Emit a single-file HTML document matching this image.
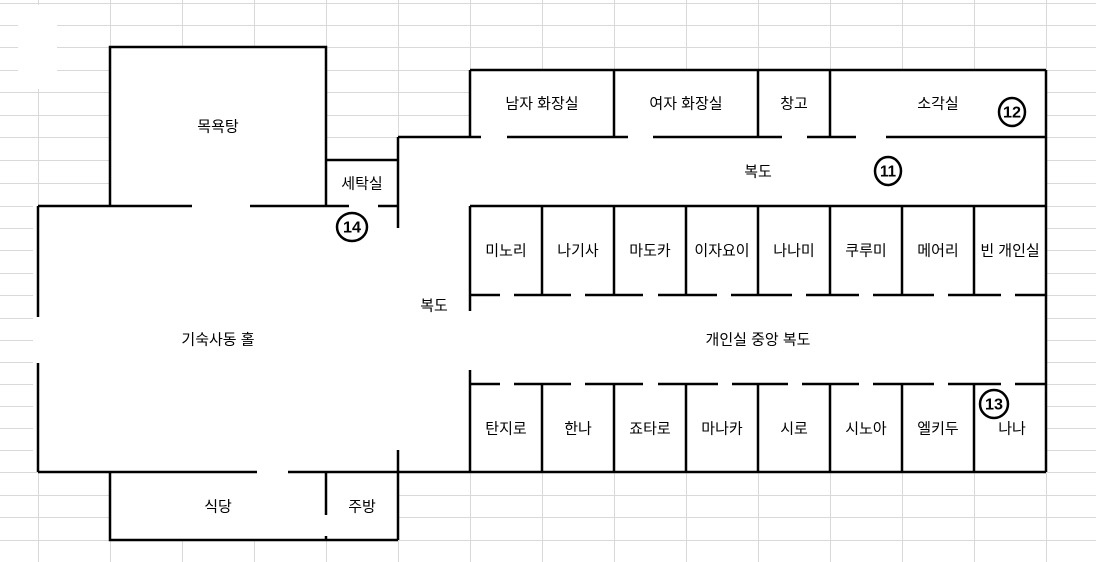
<!DOCTYPE html>
<html><head><meta charset="utf-8"><style>
html,body{margin:0;padding:0;background:#fff;}
svg{display:block;}
text{font-family:"Liberation Sans","Noto Sans CJK KR","NanumGothic",sans-serif;font-size:15px;fill:#000;text-anchor:middle;dominant-baseline:central;}
.n{font-weight:bold;font-size:16px;}
</style></head><body>
<svg width="1096" height="562" viewBox="0 0 1096 562" xmlns="http://www.w3.org/2000/svg">
<g stroke="#d9d9d9" stroke-width="1" shape-rendering="crispEdges">
<line x1="38.5" y1="0" x2="38.5" y2="562"/><line x1="110.5" y1="0" x2="110.5" y2="562"/><line x1="182.5" y1="0" x2="182.5" y2="562"/><line x1="254.5" y1="0" x2="254.5" y2="562"/><line x1="326.5" y1="0" x2="326.5" y2="562"/><line x1="398.5" y1="0" x2="398.5" y2="562"/><line x1="470.5" y1="0" x2="470.5" y2="562"/><line x1="542.5" y1="0" x2="542.5" y2="562"/><line x1="614.5" y1="0" x2="614.5" y2="562"/><line x1="686.5" y1="0" x2="686.5" y2="562"/><line x1="758.5" y1="0" x2="758.5" y2="562"/><line x1="830.5" y1="0" x2="830.5" y2="562"/><line x1="902.5" y1="0" x2="902.5" y2="562"/><line x1="974.5" y1="0" x2="974.5" y2="562"/><line x1="1046.5" y1="0" x2="1046.5" y2="562"/>
<line x1="0" y1="3.5" x2="1096" y2="3.5"/><line x1="0" y1="25.5" x2="1096" y2="25.5"/><line x1="0" y1="47.5" x2="1096" y2="47.5"/><line x1="0" y1="70.5" x2="1096" y2="70.5"/><line x1="0" y1="92.5" x2="1096" y2="92.5"/><line x1="0" y1="115.5" x2="1096" y2="115.5"/><line x1="0" y1="137.5" x2="1096" y2="137.5"/><line x1="0" y1="160.5" x2="1096" y2="160.5"/><line x1="0" y1="183.5" x2="1096" y2="183.5"/><line x1="0" y1="206.5" x2="1096" y2="206.5"/><line x1="0" y1="228.5" x2="1096" y2="228.5"/><line x1="0" y1="250.5" x2="1096" y2="250.5"/><line x1="0" y1="273.5" x2="1096" y2="273.5"/><line x1="0" y1="295.5" x2="1096" y2="295.5"/><line x1="0" y1="318.5" x2="1096" y2="318.5"/><line x1="0" y1="340.5" x2="1096" y2="340.5"/><line x1="0" y1="362.5" x2="1096" y2="362.5"/><line x1="0" y1="384.5" x2="1096" y2="384.5"/><line x1="0" y1="406.5" x2="1096" y2="406.5"/><line x1="0" y1="428.5" x2="1096" y2="428.5"/><line x1="0" y1="450.5" x2="1096" y2="450.5"/><line x1="0" y1="472.5" x2="1096" y2="472.5"/><line x1="0" y1="495.5" x2="1096" y2="495.5"/><line x1="0" y1="517.5" x2="1096" y2="517.5"/><line x1="0" y1="540.5" x2="1096" y2="540.5"/>
</g>
<g fill="#fff">
<rect x="18" y="5" width="39" height="84"/>
<rect x="110" y="47" width="216" height="159"/>
<rect x="326" y="160" width="72" height="46"/>
<rect x="33" y="206" width="437" height="266"/>
<rect x="398" y="137" width="72" height="69"/>
<rect x="470" y="70" width="576" height="402"/>
<rect x="110" y="472" width="288" height="68"/>
</g>
<g stroke="#000" stroke-width="2.5" fill="none">
<polyline points="110,206 110,47 326,47 326,206"/>
<line x1="38" y1="206" x2="192" y2="206"/><line x1="250" y1="206" x2="349" y2="206"/><line x1="378" y1="206" x2="398" y2="206"/>
<line x1="326" y1="160" x2="398" y2="160"/>
<line x1="398" y1="137" x2="398" y2="228"/>
<line x1="398" y1="137" x2="481" y2="137"/>
<line x1="38" y1="206" x2="38" y2="317"/><line x1="38" y1="363" x2="38" y2="472"/>
<line x1="38" y1="472" x2="257" y2="472"/><line x1="288" y1="472" x2="1046" y2="472"/>
<line x1="398" y1="450" x2="398" y2="540"/>
<polyline points="110,472 110,540 398,540"/>
<line x1="326" y1="472" x2="326" y2="515"/><line x1="326" y1="536" x2="326" y2="540"/>
<line x1="470" y1="70" x2="1046" y2="70"/><line x1="1046" y1="70" x2="1046" y2="472"/>
<line x1="470" y1="70" x2="470" y2="137"/>
<line x1="614" y1="70" x2="614" y2="137"/><line x1="758" y1="70" x2="758" y2="137"/><line x1="830" y1="70" x2="830" y2="137"/>
<line x1="507" y1="137" x2="628" y2="137"/><line x1="653" y1="137" x2="782" y2="137"/><line x1="807" y1="137" x2="856" y2="137"/><line x1="886" y1="137" x2="1046" y2="137"/>
<line x1="470" y1="206" x2="1046" y2="206"/>
<line x1="470" y1="206" x2="470" y2="311"/><line x1="470" y1="370" x2="470" y2="472"/>
<line x1="542" y1="206" x2="542" y2="295"/><line x1="614" y1="206" x2="614" y2="295"/><line x1="686" y1="206" x2="686" y2="295"/><line x1="758" y1="206" x2="758" y2="295"/><line x1="830" y1="206" x2="830" y2="295"/><line x1="902" y1="206" x2="902" y2="295"/><line x1="974" y1="206" x2="974" y2="295"/>
<line x1="542" y1="384" x2="542" y2="472"/><line x1="614" y1="384" x2="614" y2="472"/><line x1="686" y1="384" x2="686" y2="472"/><line x1="758" y1="384" x2="758" y2="472"/><line x1="830" y1="384" x2="830" y2="472"/><line x1="902" y1="384" x2="902" y2="472"/><line x1="974" y1="384" x2="974" y2="472"/>
<line x1="470" y1="295" x2="500" y2="295"/><line x1="514" y1="295" x2="571" y2="295"/><line x1="585" y1="295" x2="643" y2="295"/><line x1="658" y1="295" x2="717" y2="295"/><line x1="731" y1="295" x2="792" y2="295"/><line x1="806" y1="295" x2="859" y2="295"/><line x1="873" y1="295" x2="934" y2="295"/><line x1="948" y1="295" x2="1001" y2="295"/><line x1="1015" y1="295" x2="1046" y2="295"/>
<line x1="470" y1="384" x2="500" y2="384"/><line x1="514" y1="384" x2="571" y2="384"/><line x1="585" y1="384" x2="643" y2="384"/><line x1="658" y1="384" x2="718" y2="384"/><line x1="732" y1="384" x2="788" y2="384"/><line x1="802" y1="384" x2="859" y2="384"/><line x1="873" y1="384" x2="934" y2="384"/><line x1="948" y1="384" x2="1001" y2="384"/><line x1="1015" y1="384" x2="1046" y2="384"/>
<ellipse cx="352" cy="227" rx="15" ry="14"/>
<ellipse cx="888" cy="171" rx="13" ry="14"/>
<ellipse cx="1012" cy="112" rx="13" ry="14"/>
<ellipse cx="994" cy="404" rx="14" ry="14"/>
</g>
<text class="n" x="352" y="228" textLength="18" lengthAdjust="spacingAndGlyphs">14</text>
<text class="n" x="888" y="172" textLength="16" lengthAdjust="spacingAndGlyphs">11</text>
<text class="n" x="1012" y="113" textLength="18" lengthAdjust="spacingAndGlyphs">12</text>
<text class="n" x="994" y="405" textLength="18" lengthAdjust="spacingAndGlyphs">13</text>
<text x="218" y="127">목욕탕</text>
<text x="362" y="184">세탁실</text>
<text x="218" y="340">기숙사동 홀</text>
<text x="434" y="306">복도</text>
<text x="218" y="507">식당</text>
<text x="362" y="507">주방</text>
<text x="542" y="104">남자 화장실</text>
<text x="686" y="104">여자 화장실</text>
<text x="794" y="104">창고</text>
<text x="938" y="104">소각실</text>
<text x="758" y="172">복도</text>
<text x="506" y="251">미노리</text><text x="578" y="251">나기사</text><text x="650" y="251">마도카</text><text x="722" y="251">이자요이</text><text x="794" y="251">나나미</text><text x="866" y="251">쿠루미</text><text x="938" y="251">메어리</text><text x="1010" y="251">빈 개인실</text>
<text x="758" y="340">개인실 중앙 복도</text>
<text x="506" y="429">탄지로</text><text x="578" y="429">한나</text><text x="650" y="429">죠타로</text><text x="722" y="429">마나카</text><text x="794" y="429">시로</text><text x="866" y="429">시노아</text><text x="938" y="429">엘키두</text><text x="1012" y="429">나나</text>
</svg>
</body></html>
